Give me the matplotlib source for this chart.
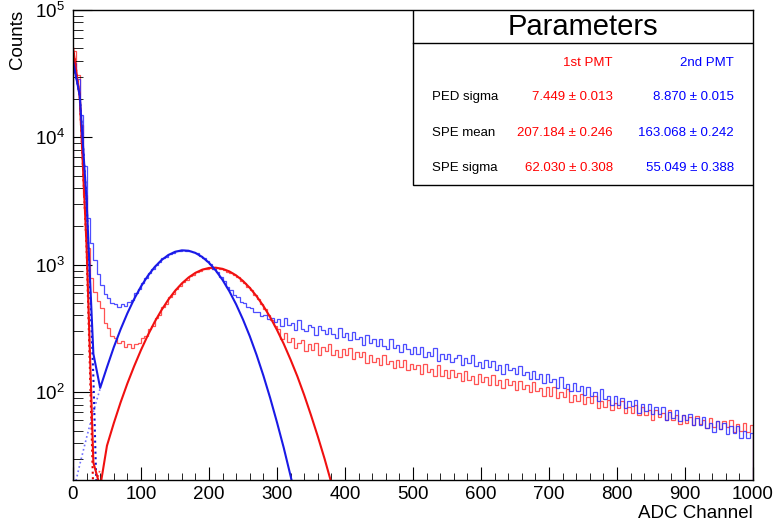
import numpy as np
import matplotlib.pyplot as plt
from matplotlib.ticker import MultipleLocator, LogLocator, NullFormatter
from matplotlib.patches import Rectangle

plt.rcParams['font.family'] = ['Liberation Sans', 'DejaVu Sans']

# histogram contents, 5-channel bins from 0 to 1000
bin_width = 5
pmt1_counts = [
    48000, 30800, 12600, 3500, 1350, 790, 610, 515, 455, 352,
    318, 274, 268, 241, 250, 226, 240, 221, 239, 243,
    268, 276, 312, 330, 381, 405, 466, 495, 556, 585,
    648, 676, 735, 760, 812, 832, 878, 889, 922, 925,
    944, 933, 941, 921, 916, 884, 869, 826, 803, 752,
    722, 669, 634, 579, 541, 488, 452, 401, 366, 328,
    312, 263, 292, 246, 265, 222, 245, 256, 211, 237,
    214, 241, 197, 226, 209, 239, 196, 213, 189, 220,
    194, 221, 183, 206, 188, 206, 170, 197, 173, 186,
    163, 196, 167, 175, 156, 180, 158, 178, 150, 165,
    152, 164, 139, 167, 143, 153, 135, 162, 134, 149,
    130, 150, 132, 141, 123, 146, 125, 133, 116, 140,
    121, 131, 114, 137, 114, 124, 107, 127, 113, 123,
    104, 123, 106, 114, 101, 120, 102, 107, 93, 109,
    94, 109, 90, 101, 92, 106, 84, 95, 86, 96,
    81, 91, 82, 93, 75, 85, 76, 87, 73, 82,
    75, 85, 68, 76, 69, 80, 66, 76, 66, 72,
    61, 73, 64, 69, 60, 72, 60, 66, 56, 66,
    57, 64, 55, 65, 56, 60, 52, 63, 53, 59,
    51, 59, 53, 60, 49, 56, 50, 57, 49, 55,
]
pmt2_counts = [
    38500, 28500, 15000, 6000, 2350, 1480, 1090, 840, 700, 585,
    548, 500, 494, 470, 488, 476, 512, 533, 601, 648,
    724, 783, 868, 921, 1003, 1049, 1124, 1158, 1222, 1241,
    1286, 1289, 1308, 1291, 1288, 1249, 1228, 1170, 1133, 1061,
    1010, 931, 874, 801, 742, 671, 633, 578, 556, 512,
    503, 462, 457, 425, 426, 398, 401, 377, 379, 355,
    376, 333, 382, 335, 348, 310, 370, 316, 301, 339,
    325, 281, 330, 308, 286, 321, 287, 264, 320, 271,
    289, 256, 295, 260, 269, 235, 283, 241, 263, 232,
    262, 230, 218, 260, 224, 235, 205, 238, 217, 201,
    226, 200, 228, 189, 206, 193, 223, 175, 199, 181,
    200, 172, 185, 197, 163, 186, 170, 194, 161, 174,
    154, 178, 158, 177, 148, 163, 140, 167, 148, 156,
    138, 161, 137, 144, 126, 147, 127, 140, 119, 140,
    121, 128, 108, 132, 108, 116, 102, 118, 102, 111,
    95, 110, 93, 101, 86, 105, 88, 94, 80, 93,
    80, 90, 75, 85, 78, 87, 69, 81, 71, 81,
    67, 76, 67, 77, 61, 70, 63, 73, 59, 66,
    60, 67, 55, 63, 55, 64, 52, 57, 49, 59,
    51, 57, 47, 54, 48, 54, 44, 50, 44, 48,
]

# fitted functions (pedestal + SPE), sampled every 10 channels
pmt1_fit_x = list(range(0, 400, 10))
pmt1_fit = [51000, 20700, 1400, 28, 18, 38, 57, 83, 117, 160,
            214, 279, 355, 439, 530, 623, 713, 795, 864, 915,
            944, 949, 929, 887, 825, 747, 659, 567, 475, 388,
            308, 239, 180, 133, 95, 66, 45, 30, 19.4, 12.2]
pmt2_fit_x = list(range(0, 340, 10))
pmt2_fit = [40000, 21200, 3190, 200, 108, 157, 225, 311, 416, 539,
            675, 817, 958, 1086, 1191, 1264, 1298, 1289, 1239, 1152,
            1037, 902, 760, 619, 488, 372, 275, 196, 135, 90,
            58, 36.5, 22, 12.9]

# single components near the pedestal
comp_x = [0, 10, 20, 30, 40]
pmt1_ped = [51000, 20700, 1387, 15.3, 0.03]
pmt1_spe = [3.6, 6.1, 10, 16, 25]
pmt2_ped = [40000, 21200, 3150, 131, 1.5]
pmt2_spe = [16, 27, 44, 70, 107]

row_names = ["PED sigma", "SPE mean", "SPE sigma"]
pmt1_text = ["7.449 \u00b1 0.013", "207.184 \u00b1 0.246", "62.030 \u00b1 0.308"]
pmt2_text = ["8.870 \u00b1 0.015", "163.068 \u00b1 0.242", "55.049 \u00b1 0.388"]

edges = np.arange(0, 1000 + bin_width, bin_width)

fig = plt.figure(figsize=(7.73, 5.27), dpi=100)
ax = fig.add_axes([0.0944, 0.089, 0.8797, 0.892])

ax.stairs(pmt1_counts, edges, color='#ff3535', lw=0.9, alpha=0.85)
ax.stairs(pmt2_counts, edges, color='#2e2eff', lw=0.9, alpha=0.85)

ax.plot(comp_x, pmt2_spe, ':', color='#7070ff', lw=1.2)
ax.plot(comp_x, pmt1_spe, ':', color='#ff4040', lw=1.2)
ax.plot(comp_x, pmt2_ped, ':', color='#1010cc', lw=1.5)
ax.plot(comp_x, pmt1_ped, ':', color='#dd0000', lw=1.5)

ax.plot(pmt1_fit_x, pmt1_fit, color='#f01010', lw=1.5)
ax.plot(pmt2_fit_x, pmt2_fit, color='#1a1ae6', lw=1.5)

ax.set_yscale('log')
ax.set_xlim(0, 1000)
ax.set_ylim(20.4, 1e5)

ax.xaxis.set_major_locator(MultipleLocator(100))
ax.xaxis.set_minor_locator(MultipleLocator(20))
ax.yaxis.set_major_locator(LogLocator(base=10, numticks=10))
ax.yaxis.set_minor_locator(LogLocator(base=10, subs=np.arange(2, 10), numticks=20))
ax.yaxis.set_minor_formatter(NullFormatter())

ax.tick_params(axis='both', which='both', direction='in', top=False, right=False, labelsize=13.5)
ax.tick_params(axis='x', which='major', length=9.5, pad=4)
ax.tick_params(axis='x', which='minor', length=5)
ax.tick_params(axis='y', which='major', length=14, pad=6)
ax.tick_params(axis='y', which='minor', length=7)

ax.set_xlabel("ADC Channel", fontsize=13.5, loc='right', labelpad=2)
ax.set_ylabel("Counts", fontsize=13.5, loc='top', labelpad=6)

for s in ax.spines.values():
    s.set_linewidth(1)

# parameter box
ax.add_patch(Rectangle((0.5, 0.628), 0.5, 0.372, transform=ax.transAxes,
                       facecolor='white', edgecolor='black', lw=1, zorder=5))
ax.plot([0.5, 1.0], [0.93, 0.93], color='black', lw=1, transform=ax.transAxes, zorder=6)
ax.text(0.75, 0.964, "Parameters", transform=ax.transAxes, ha='center', va='center',
        fontsize=21, zorder=6)
ax.text(0.794, 0.887, "1st PMT", transform=ax.transAxes, ha='right', va='center',
        fontsize=9.5, color='#ff0000', zorder=6)
ax.text(0.972, 0.887, "2nd PMT", transform=ax.transAxes, ha='right', va='center',
        fontsize=9.5, color='#0000ff', zorder=6)
row_y = [0.815, 0.738, 0.664]
for name, t1, t2, yy in zip(row_names, pmt1_text, pmt2_text, row_y):
    ax.text(0.528, yy, name, transform=ax.transAxes, ha='left', va='center', fontsize=9.5, zorder=6)
    ax.text(0.794, yy, t1, transform=ax.transAxes, ha='right', va='center', fontsize=9.5,
            color='#ff0000', zorder=6)
    ax.text(0.972, yy, t2, transform=ax.transAxes, ha='right', va='center', fontsize=9.5,
            color='#0000ff', zorder=6)

fig.savefig("out.png", dpi=100)
